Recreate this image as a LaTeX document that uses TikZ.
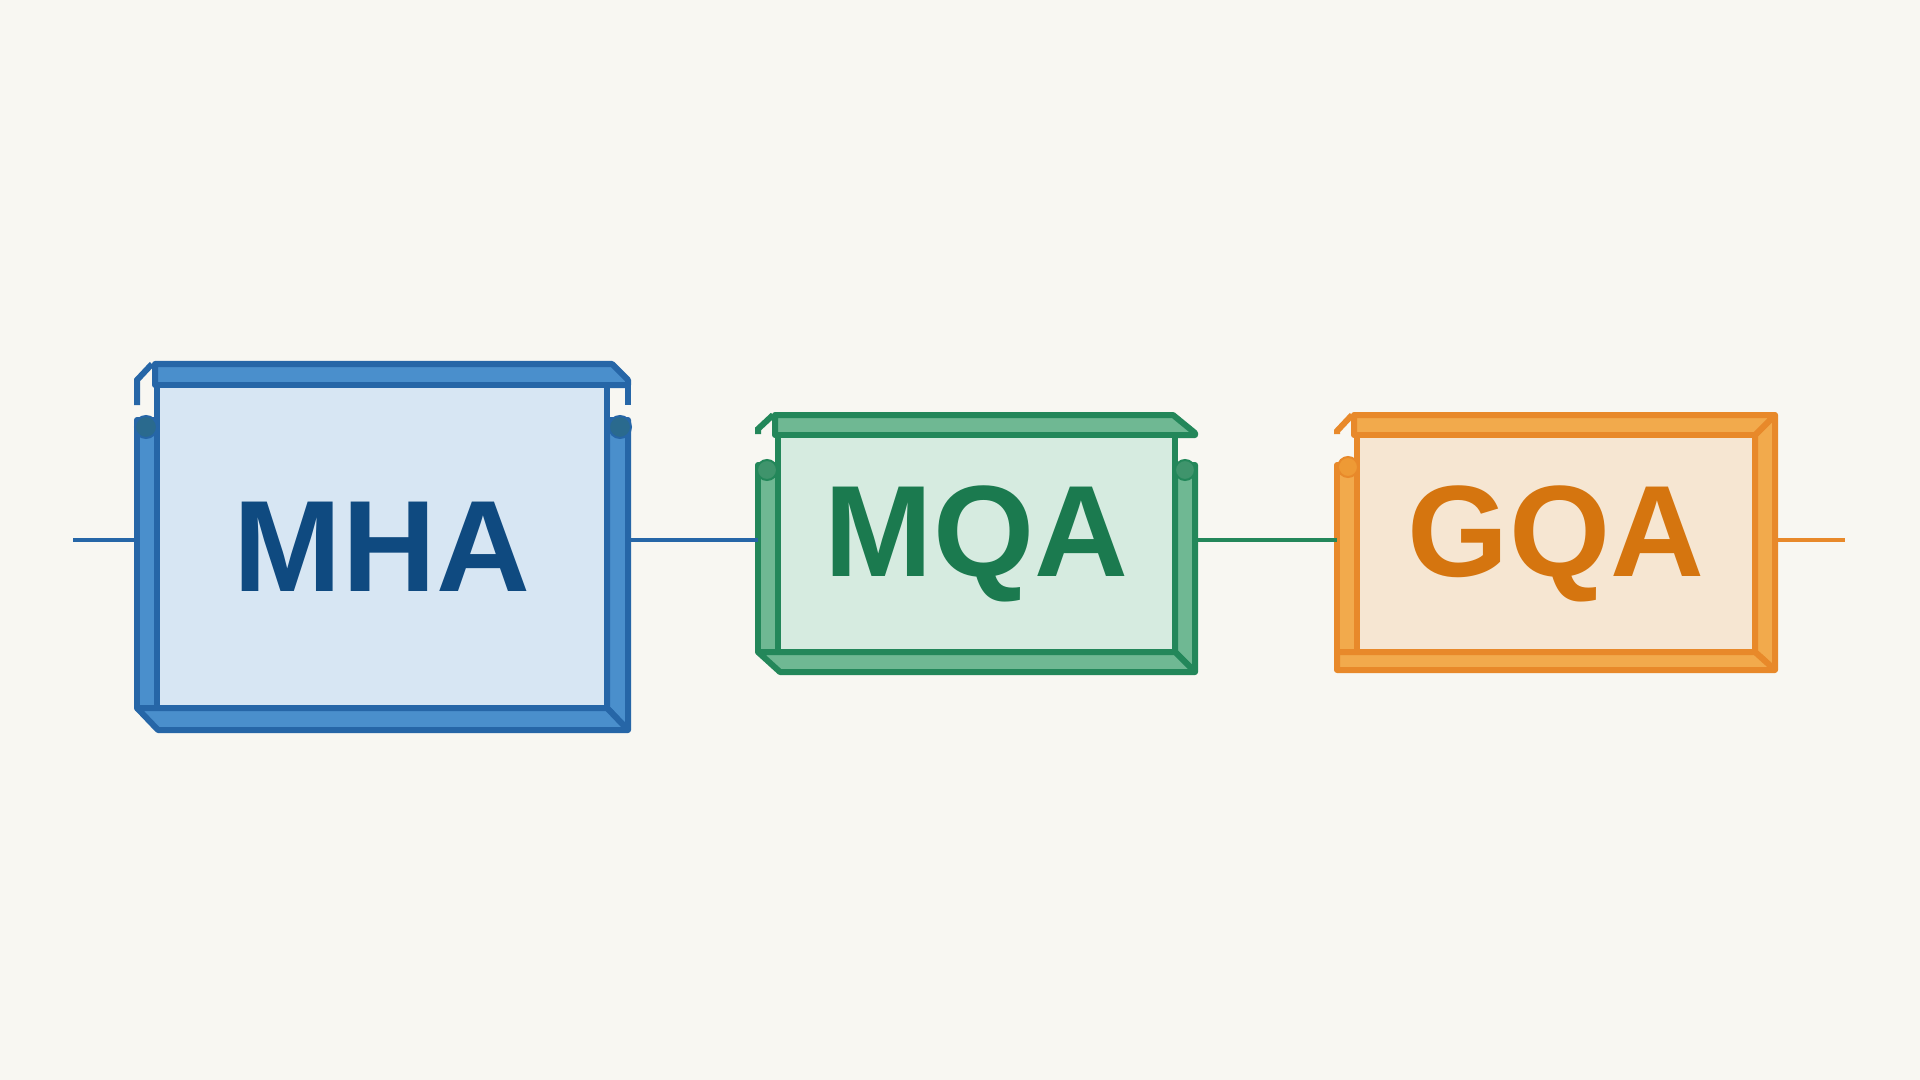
\documentclass[tikz,border=0pt]{standalone}
\usepackage{fontspec}
\setmainfont{Liberation Sans}
\definecolor{bg}{HTML}{F8F7F2}
\definecolor{bS}{HTML}{2666A7}
\definecolor{bB}{HTML}{4A8FCC}
\definecolor{bF}{HTML}{D7E6F3}
\definecolor{bT}{HTML}{0F4A80}
\definecolor{bK}{HTML}{2A6A8E}
\definecolor{gS}{HTML}{23875A}
\definecolor{gB}{HTML}{6FB893}
\definecolor{gF}{HTML}{D6EBE0}
\definecolor{gT}{HTML}{1B7A4F}
\definecolor{gK}{HTML}{3F946C}
\definecolor{oS}{HTML}{E8892A}
\definecolor{oB}{HTML}{F2AA4C}
\definecolor{oF}{HTML}{F6E6D2}
\definecolor{oT}{HTML}{D5750F}
\definecolor{oK}{HTML}{EE9A35}
\tikzset{
  facebox/.style={rectangle, draw=#1S, fill=#1F, line width=3pt, inner sep=0pt,
    text=#1T, font=\fontsize{65}{70}\selectfont\bfseries},
  band/.style={draw=#1S, fill=#1B, line width=3pt, line join=round},
  bracket/.style={draw=#1S, line width=3pt, line join=miter},
  knob/.style={draw=#1S, fill=#1K, line width=1pt},
  wire/.style={draw=#1, line width=2pt},
}
\begin{document}
\begin{tikzpicture}[x=0.5pt,y=-0.5pt]
\fill[bg] (0,0) rectangle (1920,1080);
\useasboundingbox (0,0) rectangle (1920,1080);

% ---------- MHA ----------
\path[band=b] (137,420) rectangle (157,708);
\path[band=b] (607,420) -- (628,420) -- (628,730) -- (607,708) -- cycle;
\path[band=b] (137,708) -- (607,708) -- (628,730) -- (158,730) -- cycle;
\path[band=b] (155,364) -- (612,364) -- (628,380) -- (628,385) -- (155,385) -- cycle;
\node[facebox=b, minimum width=225pt, minimum height=161.5pt] (mha) at (382,546.5) {MHA};
\path[bracket=b] (137,405) -- (137,380) -- (152,364);
\path[bracket=b] (628,380) -- (628,405);
\fill[knob=b] (146,427) circle (5.5pt);
\fill[knob=b] (620,427) circle (5.5pt);
\coordinate (mhaw) at (137,540);
\coordinate (mhae) at (628,540);

% ---------- MQA ----------
\path[band=g] (758,465) rectangle (778,652);
\path[band=g] (1175,465) -- (1195,465) -- (1195,672) -- (1175,652) -- cycle;
\path[band=g] (758,652) -- (1175,652) -- (1195,672) -- (780,672) -- cycle;
\path[band=g] (775,415) -- (1173,415) -- (1195,433) -- (1195,435) -- (775,435) -- cycle;
\node[facebox=g, minimum width=198.5pt, minimum height=108.5pt] (mqa) at (976.5,543.5) {MQA};
\path[bracket=g] (758,434) -- (758,429) -- (773,415);
\fill[knob=g] (767,470) circle (5pt);
\fill[knob=g] (1185,470) circle (5pt);
\coordinate (mqaw) at (758,540);
\coordinate (mqae) at (1195,540);

% ---------- GQA ----------
\path[band=o] (1337,465) rectangle (1357,652);
\path[band=o] (1755,435) -- (1775,415) -- (1775,670) -- (1755,652) -- cycle;
\path[band=o] (1337,652) -- (1755,652) -- (1775,670) -- (1337,670) -- cycle;
\path[band=o] (1354,415) -- (1775,415) -- (1755,435) -- (1354,435) -- cycle;
\node[facebox=o, minimum width=199pt, minimum height=108.5pt] (gqa) at (1556,543.5) {GQA};
\path[bracket=o] (1337,434) -- (1337,431) -- (1352,415);
\fill[knob=o] (1348,467) circle (5pt);
\coordinate (gqaw) at (1337,540);
\coordinate (gqae) at (1775,540);

% ---------- connectors ----------
\coordinate (lin) at (73,540);
\coordinate (lout) at (1845,540);
\draw[wire=bS] (lin) -- (mhaw);
\draw[wire=bS] (mhae) -- (mqaw);
\draw[wire=gS] (mqae) -- (gqaw);
\draw[wire=oS] (gqae) -- (lout);
\end{tikzpicture}
\end{document}
